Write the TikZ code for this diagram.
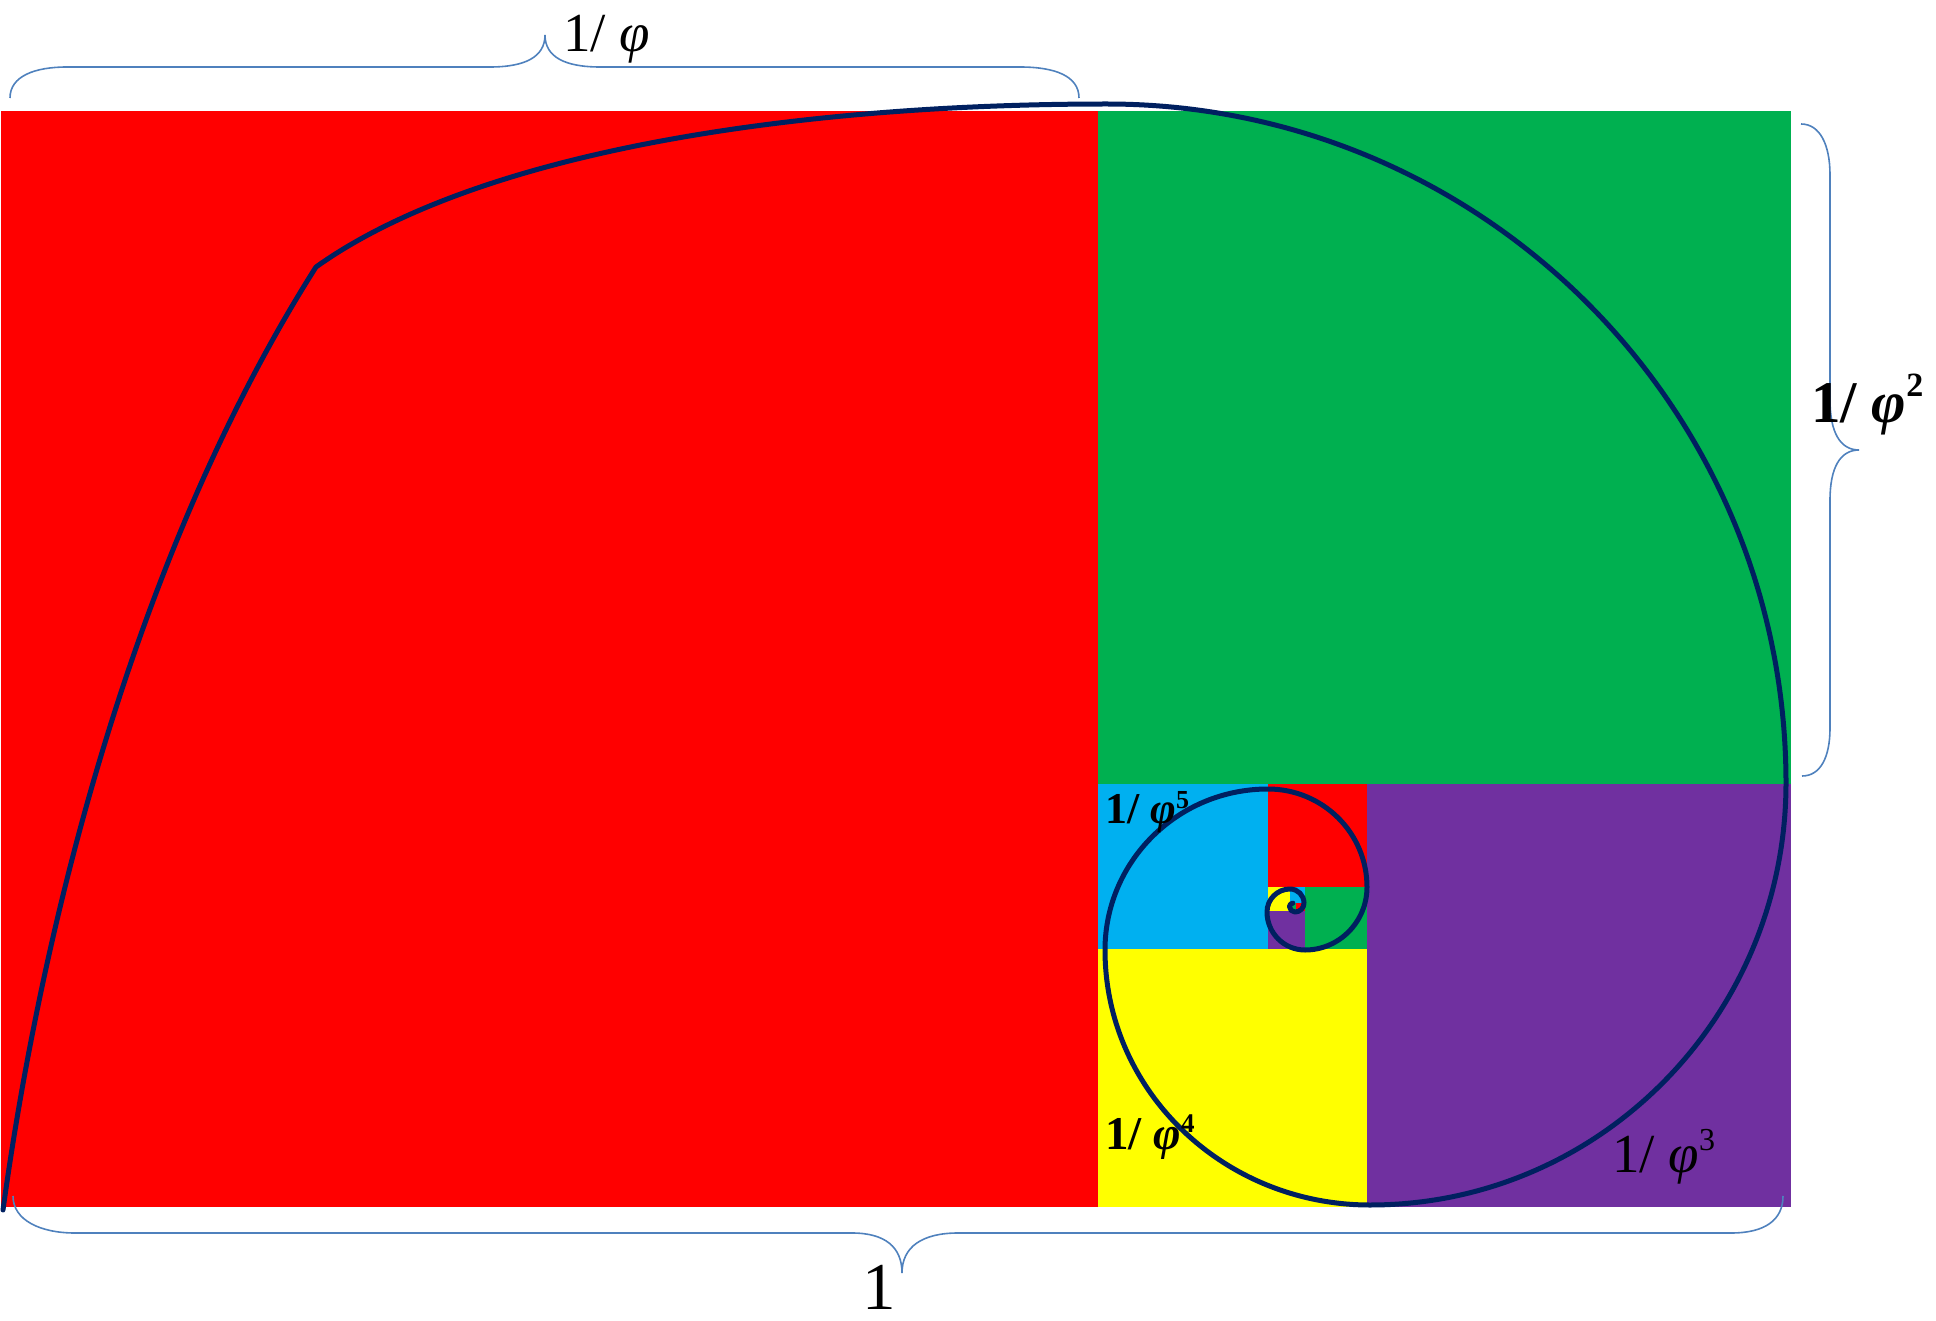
\documentclass[tikz,border=0pt]{standalone}
\usepackage{fontspec}
\setmainfont{Liberation Serif}
\definecolor{cRed}{HTML}{FF0000}
\definecolor{cGreen}{HTML}{00B050}
\definecolor{cPurple}{HTML}{7030A0}
\definecolor{cYellow}{HTML}{FFFF00}
\definecolor{cBlue}{HTML}{00B0F0}
\definecolor{spiralcol}{HTML}{002060}
\definecolor{bracecol}{HTML}{4F81BD}
\begin{document}
\begin{tikzpicture}[x=1pt,y=-1pt,
  lbl/.style={anchor=base west, inner sep=0pt, text=black},
  brace/.style={draw=bracecol, line width=1.6pt},
  spiral/.style={draw=spiralcol, line width=5pt, line join=round, line cap=round}]
\useasboundingbox (0,0) rectangle (1936,1321);
% squares
\fill[cRed]    (1,111)    rectangle (1098,1207);
\fill[cGreen]  (1098,111) rectangle (1791,784);
\fill[cPurple] (1367,784) rectangle (1791,1207);
\fill[cYellow] (1098,949) rectangle (1367,1207);
\fill[cBlue]   (1098,784) rectangle (1268,949);
\fill[cRed]    (1268,784) rectangle (1367,887);
\fill[cGreen]  (1305,887) rectangle (1367,949);
\fill[cPurple] (1268,911) rectangle (1305,949);
\fill[cYellow] (1268,887) rectangle (1290,911);
\fill[cBlue]   (1290,887) rectangle (1305,903);
\fill[cRed]    (1296,903) rectangle (1305,911);
\fill[cGreen]  (1290,903) rectangle (1296,911);
% spiral
\draw[spiral] (3,1210) .. controls (40,940) and (130,560) .. (316,267)
  .. controls (480,150) and (800,104) .. (1107,104)
  arc[start angle=-90, end angle=0, radius=679]
  arc[start angle=0, end angle=90, x radius=416, y radius=422]
  arc[start angle=90, end angle=180, x radius=265, y radius=255]
  arc[start angle=180, end angle=270, x radius=163, y radius=161]
  arc[start angle=270, end angle=360, x radius=99, y radius=98]
  arc[start angle=0, end angle=90, x radius=62, y radius=63]
  arc[start angle=90, end angle=180, radius=38]
  arc[start angle=180, end angle=270, radius=23]
  arc[start angle=270, end angle=360, radius=14]
  arc[start angle=0, end angle=90, radius=9]
  arc[start angle=90, end angle=180, radius=5.5]
  arc[start angle=180, end angle=270, radius=3.4];
% braces
\draw[brace] (10,98) .. controls (10,76) and (35,67) .. (67,67) -- (490,67)
  .. controls (525,67) and (545,57) .. (545,35)
  .. controls (545,57) and (565,67) .. (600,67) -- (1020,67)
  .. controls (1055,67) and (1079,76) .. (1079,98);
\draw[brace] (13,1196) .. controls (13,1220) and (40,1233) .. (75,1233) -- (852,1233)
  .. controls (885,1233) and (902,1247) .. (902,1273)
  .. controls (902,1247) and (922,1233) .. (958,1233) -- (1731,1233)
  .. controls (1765,1233) and (1783,1220) .. (1783,1196);
\draw[brace] (1801,124) .. controls (1820,124) and (1830,145) .. (1830,175) -- (1830,400)
  .. controls (1830,432) and (1840,450) .. (1859,450)
  .. controls (1840,450) and (1830,468) .. (1830,500) -- (1830,728)
  .. controls (1830,758) and (1820,776) .. (1802,776);
% labels
\node[lbl] (l1) at (563,52) {\fontsize{55}{60}\selectfont 1/ \textit{φ}};
\node[lbl] (l2) at (1811,423) {\fontsize{59}{64}\selectfont\bfseries 1/ \textit{φ}\raisebox{26pt}{\fontsize{34}{36}\selectfont 2}};
\node[lbl] (l3) at (1612,1172) {\fontsize{55}{60}\selectfont 1/ \textit{φ}\raisebox{22pt}{\fontsize{32}{34}\selectfont 3}};
\node[lbl] (l4) at (1105,1149) {\fontsize{47}{50}\selectfont\bfseries 1/ \textit{φ}\raisebox{17pt}{\fontsize{27}{30}\selectfont 4}};
\node[lbl] (l5) at (1105,823) {\fontsize{44}{48}\selectfont\bfseries 1/ \textit{φ}\raisebox{15pt}{\fontsize{26}{28}\selectfont 5}};
\node[lbl] (l0) at (862,1309) {\fontsize{67}{70}\selectfont 1};
\end{tikzpicture}
\end{document}
